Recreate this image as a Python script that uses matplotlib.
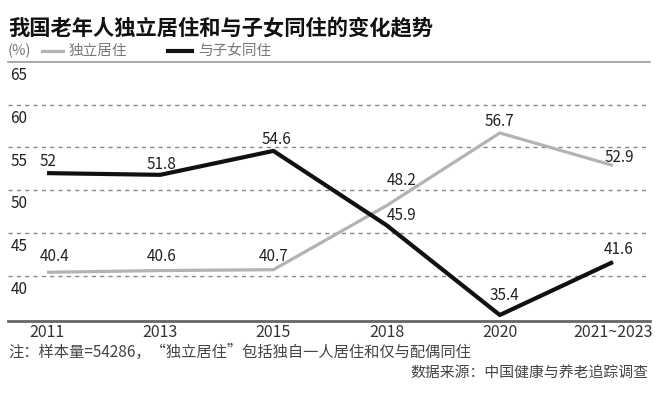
import matplotlib
matplotlib.use("Agg")
import matplotlib.pyplot as plt
import numpy as np

plt.rcParams['font.family'] = ['Noto Sans CJK SC', 'DejaVu Sans']

years = ["2011", "2013", "2015", "2018", "2020", "2021~2023"]
alone = [40.4, 40.6, 40.7, 48.2, 56.7, 52.9]
with_kids = [52.0, 51.8, 54.6, 45.9, 35.4, 41.6]
alone_lbl = ["40.4", "40.6", "40.7", "48.2", "56.7", "52.9"]
kids_lbl = ["52", "51.8", "54.6", "45.9", "35.4", "41.6"]
yticks = [40, 45, 50, 55, 60, 65]

GRAY = "#b3b3b3"
BLACK = "#111111"
TXT = "#222222"

fig = plt.figure(figsize=(6.6, 3.95), dpi=100)
ax = fig.add_axes([8 / 660, 1 - 321 / 395, 642 / 660, 259 / 395])

x = np.arange(len(years))
ax.plot(x, alone, color=GRAY, lw=2.3, solid_capstyle="butt")
ax.plot(x, with_kids, color=BLACK, lw=3.0, solid_capstyle="butt")

ax.set_xlim(-0.345, 5.327)
ax.set_ylim(34.7, 65)

for yv in yticks[:-1]:
    ax.axhline(yv, color="#888888", lw=1.0, ls=(0, (3, 3)), zorder=0)
for yv in yticks:
    ax.text(0.004, yv - 0.6, str(yv), transform=ax.get_yaxis_transform(),
            ha="left", va="top", fontsize=11, color=TXT)

# label offsets in pixels (dx, up), converted to points
off_alone = [(8, 16), (1, 14), (0, 13), (15, 25), (0, 11), (6, 8)]
off_kids = [(1, 12), (1, 10), (3, 11), (15, 10), (5, 20), (6, 13)]
for i in range(len(years)):
    dx, dy = off_alone[i]
    ax.annotate(alone_lbl[i], (x[i], alone[i]), xytext=(dx * 0.72, dy * 0.72),
                textcoords="offset points", ha="center", va="center", fontsize=11, color=TXT)
    dx, dy = off_kids[i]
    ax.annotate(kids_lbl[i], (x[i], with_kids[i]), xytext=(dx * 0.72, dy * 0.72),
                textcoords="offset points", ha="center", va="center", fontsize=11, color=TXT)

ax.set_yticks([])
ax.set_xticks(x)
ax.set_xticklabels(years, fontsize=11.5, color="#333333")
ax.tick_params(axis="x", length=0, pad=2)
for s in ["left", "right"]:
    ax.spines[s].set_visible(False)
ax.spines["top"].set_color("#999999")
ax.spines["top"].set_linewidth(1.2)
ax.spines["bottom"].set_color("#666666")
ax.spines["bottom"].set_linewidth(2.0)

# title and legend row
fig.text(8 / 660, 1 - 29 / 395, "我国老年人独立居住和与子女同住的变化趋势",
         fontsize=15.3, fontweight="bold", color="#111111", va="center", ha="left")
fig.text(8 / 660, 1 - 51 / 395, "(%)", fontsize=10.5, color="#777777", va="center", ha="left")
fig.add_artist(plt.Line2D([42 / 660, 63 / 660], [1 - 51 / 395] * 2, color=GRAY, lw=2.3))
fig.text(68 / 660, 1 - 51 / 395, "独立居住", fontsize=10.5, color="#777777", va="center", ha="left")
fig.add_artist(plt.Line2D([168 / 660, 192 / 660], [1 - 51 / 395] * 2, color=BLACK, lw=3))
fig.text(198 / 660, 1 - 51 / 395, "与子女同住", fontsize=10.5, color="#777777", va="center", ha="left")

fig.text(8 / 660, 1 - 352 / 395, "注：样本量=54286，“独立居住”包括独自一人居住和仅与配偶同住",
         fontsize=11, color="#444444", va="center", ha="left")
fig.text(648 / 660, 1 - 373 / 395, "数据来源：中国健康与养老追踪调查",
         fontsize=10.7, color="#444444", va="center", ha="right")

fig.savefig("out.png", dpi=100, facecolor="white")
